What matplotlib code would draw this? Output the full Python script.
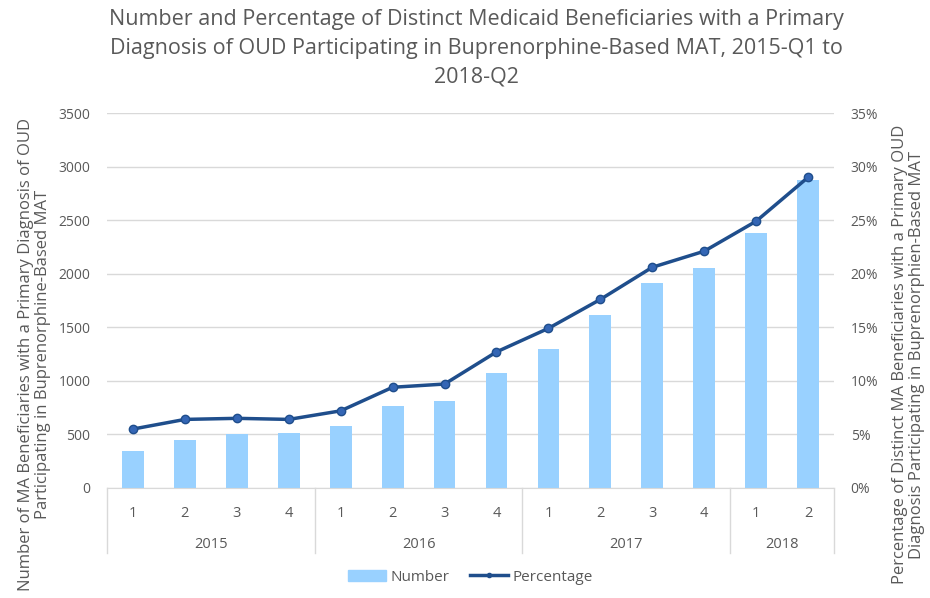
import numpy as np
from matplotlib import pyplot as plt
from matplotlib.ticker import PercentFormatter
from matplotlib.lines import Line2D
from matplotlib.patches import Patch
import matplotlib.transforms as mtransforms

plt.rcParams['font.family'] = ['Open Sans', 'DejaVu Sans']

quarters = ['1', '2', '3', '4', '1', '2', '3', '4', '1', '2', '3', '4', '1', '2']
years = ['2015', '2016', '2017', '2018']
year_len = [4, 4, 4, 2]
number = [345, 451, 501, 516, 582, 765, 815, 1077, 1298, 1612, 1911, 2051, 2378, 2876]
percentage = [5.5, 6.4, 6.5, 6.4, 7.2, 9.4, 9.7, 12.7, 14.9, 17.6, 20.6, 22.1, 24.9, 29.0]

gray = '#595959'
bar_c = '#99d1ff'
line_c = '#1f4e8c'

fig = plt.figure(figsize=(9.3, 5.98), dpi=100)
ax = fig.add_axes([0.1151, 0.184, 0.7817, 0.627])
x = np.arange(len(number))
ax.bar(x, number, width=0.42, color=bar_c, zorder=2)
ax.set_xlim(-0.5, len(number) - 0.5)
ax.set_ylim(0, 3500)
ax.set_yticks(np.arange(0, 3501, 500))
ax.grid(axis='y', color='#d9d9d9', lw=1, zorder=0)
ax.set_axisbelow(True)
for s in ['top', 'left', 'right']:
    ax.spines[s].set_visible(False)
ax.spines['bottom'].set_color('#d9d9d9')
ax.tick_params(axis='y', length=0, labelsize=10, labelcolor=gray, pad=12)
ax.set_xticks(x)
ax.set_xticklabels(quarters)
ax.tick_params(axis='x', length=0, labelsize=10.5, labelcolor=gray, pad=13)

# year group labels and separators
trans = mtransforms.blended_transform_factory(ax.transData, ax.transAxes)
start = 0
edges = [-0.5]
for yr, n in zip(years, year_len):
    ax.text(start + (n - 1) / 2, -0.152, yr, transform=trans, ha='center', va='center',
            fontsize=10.5, color=gray)
    start += n
    edges.append(start - 0.5)
for e in edges:
    ax.plot([e, e], [0, -0.173], transform=trans, color='#d9d9d9', lw=1, clip_on=False)

ax2 = ax.twinx()
ax2.plot(x, percentage, color=line_c, lw=2.5, marker='o', markersize=6,
         markerfacecolor='#3466b5', markeredgecolor=line_c, markeredgewidth=1, zorder=3)
ax2.set_ylim(0, 35)
ax2.set_yticks(np.arange(0, 36, 5))
ax2.yaxis.set_major_formatter(PercentFormatter(decimals=0))
for s in ['top', 'left', 'right', 'bottom']:
    ax2.spines[s].set_visible(False)
ax2.tick_params(axis='y', length=0, labelsize=10, labelcolor=gray, pad=12)

ax.set_ylabel('Number of MA Beneficiaries with a Primary Diagnosis of OUD\nParticipating in Buprenorphine-Based MAT',
              fontsize=12, color=gray, linespacing=1.05)
ax.yaxis.set_label_coords(-0.077, 0.355)
ax2.set_ylabel('Percentage of Distinct MA Beneficiaries with a Primary OUD\nDiagnosis Participating in Buprenorphien-Based MAT',
               fontsize=12, color=gray, linespacing=1.05)
ax2.yaxis.set_label_coords(1.080, 0.355)

fig.suptitle('Number and Percentage of Distinct Medicaid Beneficiaries with a Primary\n'
             'Diagnosis of OUD Participating in Buprenorphine-Based MAT, 2015-Q1 to\n2018-Q2',
             x=0.512, y=0.985, fontsize=15.5, color=gray, linespacing=1.5)

handles = [Patch(color=bar_c, label='Number'),
           Line2D([], [], color=line_c, lw=2.5, marker='o', markersize=3, label='Percentage')]
fig.legend(handles=handles, loc='center', bbox_to_anchor=(0.506, 0.035), ncol=2, frameon=False,
           fontsize=11, labelcolor=gray, handlelength=2.5, handletextpad=0.3, columnspacing=1.3)

fig.savefig('out.png', dpi=100)
